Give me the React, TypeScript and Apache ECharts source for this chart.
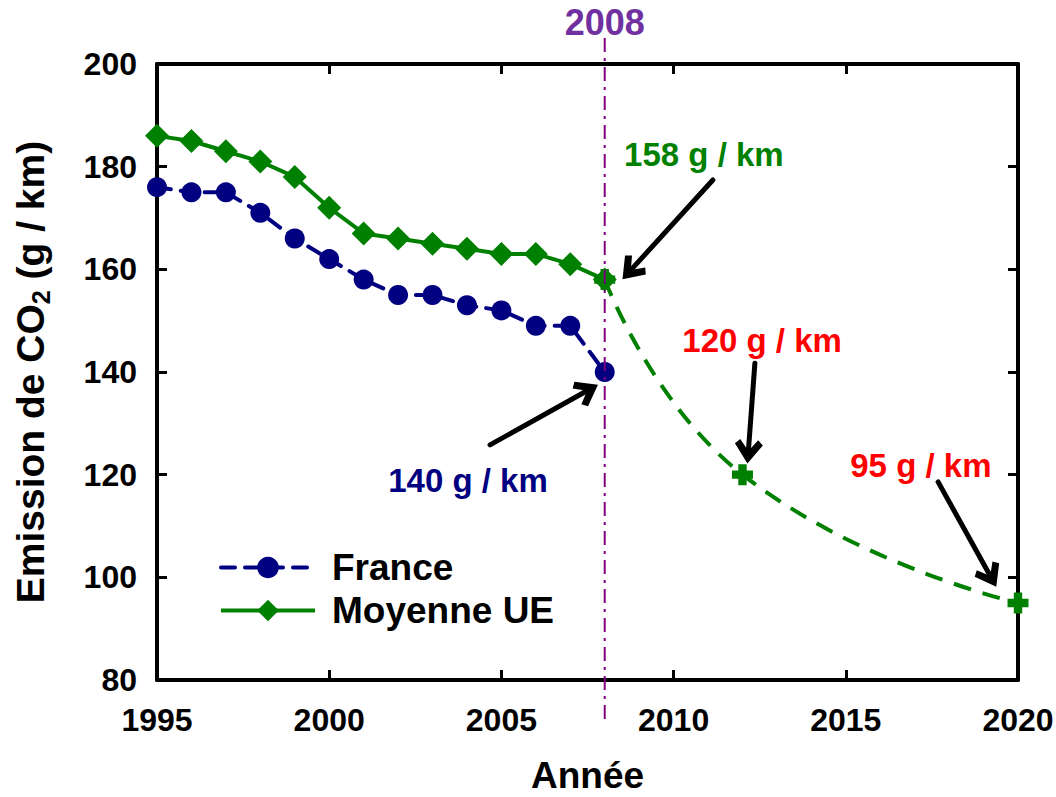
import React, { useEffect, useRef } from 'react';
import * as echarts from 'echarts';

const years = [1995, 1996, 1997, 1998, 1999, 2000, 2001, 2002, 2003, 2004, 2005, 2006, 2007, 2008];
const france = [176, 175, 175, 171, 166, 162, 158, 155, 155, 153, 152, 149, 149, 140];
const moyenneUE = [186, 185, 183, 181, 178, 172, 167, 166, 165, 164, 163, 163, 161, 158];
const targetYears = [2008, 2012, 2020];
const targetValues = [158, 120, 95];

const xMin = 1995;
const xMax = 2020;
const xInterval = 5;
const yMin = 80;
const yMax = 200;
const yInterval = 20;
const markerYear = 2008;

const noteTexts = ['158 g / km', '140 g / km', '120 g / km', '95 g / km'];
const noteColors = ['#008000', '#000080', '#ff0000', '#ff0000'];
const noteYears = [2010.88, 2004.03, 2012.57, 2017.18];
const noteValues = [182.3, 118.8, 146.2, 121.7];
const arrowFromYears = [2011.14, 2004.67, 2012.36, 2017.68];
const arrowFromValues = [177.4, 125.8, 141.7, 118.6];
const arrowToYears = [2008.75, 2007.5, 2012.17, 2019.2];
const arrowToValues = [159.8, 136.4, 124.5, 100.2];

const FONT = '"Liberation Sans", Arial, Helvetica, sans-serif';
const PLUS = 'path://M3,0 H7 V3 H10 V7 H7 V10 H3 V7 H0 V3 H3 Z';
const CHEVRON = 'path://M5,0 L10,8 L8.2,10 L5,5.2 L1.8,10 L0,8 Z';

export default function App() {
  const ref = useRef<HTMLDivElement>(null);
  useEffect(() => {
    if (!ref.current) return;
    const chart = echarts.init(ref.current, null, { renderer: 'svg' });
    const axisCommon = {
      type: 'value' as const,
      axisLine: { show: true, onZero: false, lineStyle: { color: '#000', width: 4 } },
      axisTick: { show: true, inside: true, length: 10, lineStyle: { color: '#000', width: 3 } },
      splitLine: { show: false },
    };
    const option: any = {
      animation: false,
      backgroundColor: '#fff',
      grid: { left: 157, right: 38, top: 64, bottom: 117, containLabel: false, outerBoundsMode: 'none' },
      legend: {
        data: ['France', 'Moyenne UE'],
        orient: 'vertical',
        left: 214,
        top: 544,
        itemWidth: 94,
        itemHeight: 27,
        itemGap: 6,
        lineStyle: { width: 4 },
        textStyle: { fontFamily: FONT, fontWeight: 'bold', fontSize: 37, color: '#000', padding: [0, 0, 0, 12] },
        selectedMode: false,
      },
      xAxis: [
        {
          ...axisCommon,
          position: 'bottom',
          min: xMin,
          max: xMax,
          interval: xInterval,
          name: 'Année',
          nameLocation: 'middle',
          nameGap: 77,
          nameTextStyle: { fontFamily: FONT, fontWeight: 'bold', fontSize: 37, lineHeight: 37, color: '#000' },
          axisLabel: {
            fontFamily: FONT,
            fontWeight: 'bold',
            fontSize: 32,
            color: '#000',
            margin: 24,
            formatter: (v: number) => String(v),
          },
        },
        {
          ...axisCommon,
          position: 'top',
          min: xMin,
          max: xMax,
          interval: xInterval,
          axisLabel: { show: false },
        },
      ],
      yAxis: [
        {
          ...axisCommon,
          position: 'left',
          min: yMin,
          max: yMax,
          interval: yInterval,
          name: 'Emission de CO{sub|2} (g / km)',
          nameLocation: 'middle',
          nameGap: 104,
          nameTextStyle: {
            fontFamily: FONT,
            fontWeight: 'bold',
            fontSize: 39,
            color: '#000',
            lineHeight: 45,
            rich: {
              sub: { fontFamily: FONT, fontWeight: 'bold', fontSize: 25, color: '#000', verticalAlign: 'bottom', lineHeight: 45 },
            },
          },
          axisLabel: { fontFamily: FONT, fontWeight: 'bold', fontSize: 32, color: '#000', margin: 20 },
        },
        {
          ...axisCommon,
          position: 'right',
          min: yMin,
          max: yMax,
          interval: yInterval,
          axisLabel: { show: false },
        },
      ],
      series: [
        {
          name: 'Projection',
          type: 'line',
          data: targetYears.map((y, i) => [y, targetValues[i]]),
          smooth: true,
          symbol: PLUS,
          symbolSize: 21,
          lineStyle: { color: '#008000', width: 4, type: [18, 12] },
          itemStyle: { color: '#008000' },
          z: 2,
          silent: true,
        },
        {
          name: 'France',
          type: 'line',
          data: years.map((y, i) => [y, france[i]]),
          symbol: 'circle',
          symbolSize: 20,
          lineStyle: { color: '#000080', width: 4, type: [14, 10], cap: 'round' },
          itemStyle: { color: '#000080' },
          z: 3,
          silent: true,
        },
        {
          name: 'Moyenne UE',
          type: 'line',
          data: years.map((y, i) => [y, moyenneUE[i]]),
          symbol: 'diamond',
          symbolSize: 24,
          lineStyle: { color: '#008000', width: 4 },
          itemStyle: { color: '#008000' },
          z: 3,
          silent: true,
        },
        {
          name: 'Notes',
          type: 'scatter',
          data: noteTexts.map((t, i) => ({
            name: t,
            value: [noteYears[i], noteValues[i]],
            label: { color: noteColors[i] },
          })),
          symbolSize: 1,
          itemStyle: { color: 'rgba(0,0,0,0)', opacity: 1 },
          label: {
            show: true,
            position: 'inside',
            formatter: (p: any) => p.name,
            fontFamily: FONT,
            fontWeight: 'bold',
            fontSize: 33,
          },
          silent: true,
          z: 5,
          markLine: {
            silent: true,
            symbol: ['none', CHEVRON],
            symbolSize: [28, 24],
            label: { show: false },
            lineStyle: { color: '#000', width: 5, type: 'solid', cap: 'round', opacity: 1 },
            itemStyle: { color: '#000' },
            data: arrowFromYears.map((y, i) => [
              { coord: [y, arrowFromValues[i]] },
              { coord: [arrowToYears[i], arrowToValues[i]] },
            ]),
          },
        },
      ],
    };
    chart.setOption(option);
    const px = chart.convertToPixel({ xAxisIndex: 0 }, markerYear) as number;
    chart.setOption({
      graphic: [
        {
          type: 'line',
          z: 100,
          silent: true,
          shape: { x1: px, y1: 38, x2: px, y2: 720 },
          style: { stroke: '#800080', lineWidth: 2, lineDash: [14, 6, 3, 6] },
        },
        {
          type: 'text',
          z: 100,
          silent: true,
          x: px,
          y: 22,
          style: {
            text: String(markerYear),
            fill: '#7030A0',
            font: `bold 36px ${FONT}`,
            textAlign: 'center',
            textVerticalAlign: 'middle',
          },
        },
      ],
    });
    return () => chart.dispose();
  }, []);
  return <div ref={ref} style={{ position: 'fixed', left: 0, top: 0, width: 1056, height: 797 }} />;
}
